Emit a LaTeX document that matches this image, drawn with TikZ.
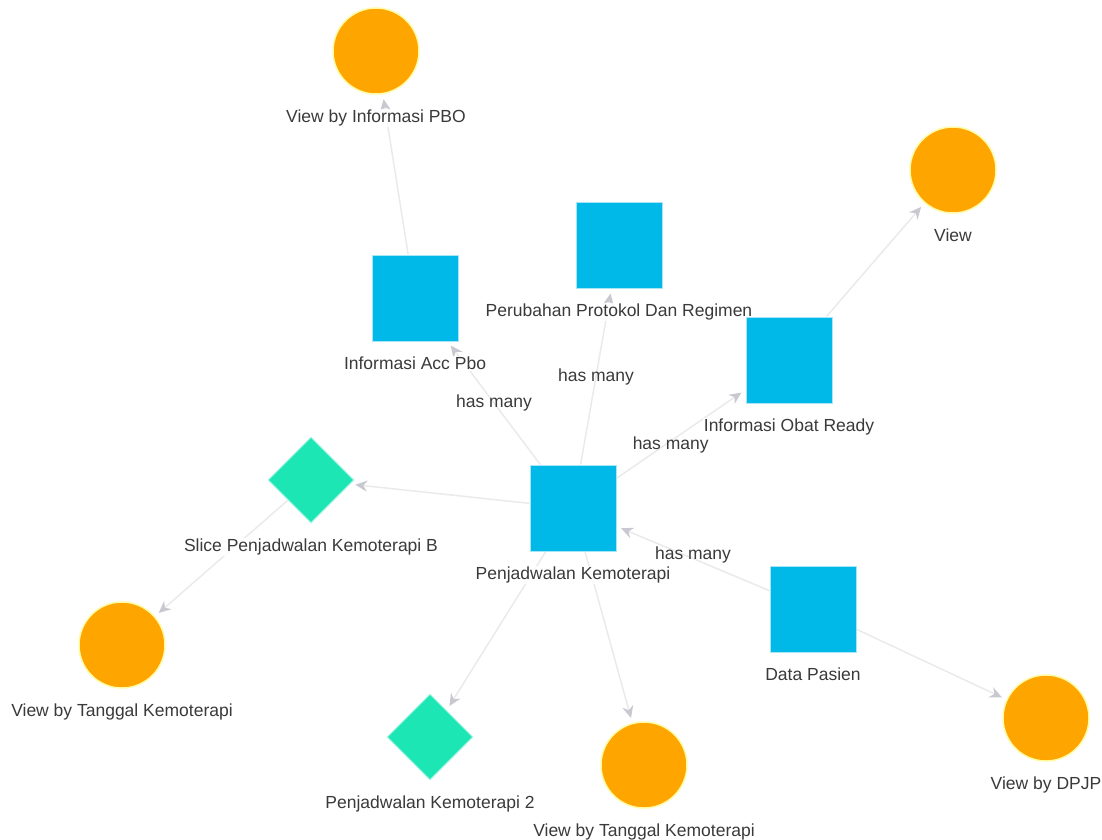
\documentclass[tikz,border=0pt]{standalone}
\usepackage{fontspec}
\setmainfont{Liberation Sans}
\usetikzlibrary{shapes.geometric, arrows.meta, positioning}
\definecolor{entblue}{HTML}{00B9E8}
\definecolor{vieworange}{HTML}{FFA500}
\definecolor{sliceteal}{HTML}{1DE6B5}
\definecolor{edgegray}{HTML}{EAEAEA}
\definecolor{tipgray}{HTML}{C8C8D0}
\definecolor{textgray}{HTML}{3A3A3A}
\pgfdeclarelayer{back}
\pgfsetlayers{back,main}
\tikzset{
    entity/.style={rectangle, minimum size=86pt, inner sep=0pt, fill=entblue, draw=entblue!35, line width=1pt},
    viewnode/.style={circle, minimum size=86pt, inner sep=0pt, fill=vieworange, draw=yellow!35, line width=1.5pt},
    slicenode/.style={diamond, minimum width=86pt, minimum height=86pt, inner sep=0pt, fill=sliceteal, draw=sliceteal!35, line width=1pt},
    nametag/.style={font=\fontsize{17.5}{20}\selectfont, text=textgray, inner sep=1pt},
    connector/.style={draw=edgegray, line width=1.5pt, shorten >=5pt, -{Stealth[length=12pt, width=11pt, color=tipgray]}}
}
\begin{document}
\begin{tikzpicture}[x=1pt, y=-1pt, label distance=14pt, every label/.style={nametag, fill=white, fill opacity=0.85, text opacity=1}]
\useasboundingbox (0,0) rectangle (1102,839);

% Nodes
\node (viewPbo) [viewnode, label=below:{View by Informasi PBO}] at (376,51) {};
\node (viewObat) [viewnode, label=below:{View}] at (953,170) {};
\node (perubahan) [entity, label=below:{Perubahan Protokol Dan Regimen}] at (619,245) {};
\node (accPbo) [entity, label=below:{Informasi Acc Pbo}] at (415,298) {};
\node (obatReady) [entity, label=below:{Informasi Obat Ready}] at (789,360) {};
\node (jadwal) [entity, label=below:{Penjadwalan Kemoterapi}] at (573,508) {};
\node (pasien) [entity, label=below:{Data Pasien}] at (813,609) {};
\node (sliceB) [slicenode, label=below:{Slice Penjadwalan Kemoterapi B}] at (311,480) {};
\node (viewTglLeft) [viewnode, label=below:{View by Tanggal Kemoterapi}] at (122,645) {};
\node (jadwalDua) [slicenode, label=below:{Penjadwalan Kemoterapi 2}] at (430,737) {};
\node (viewTglBottom) [viewnode, label=below:{View by Tanggal Kemoterapi}] at (644,765) {};
\node (viewDpjp) [viewnode, label=below:{View by DPJP}] at (1046,718) {};

% Arrows
\begin{pgfonlayer}{back}
\draw [connector] (accPbo) -- (viewPbo);
\draw [connector] (jadwal) -- node[nametag] {has many} (accPbo);
\draw [connector] (jadwal) -- node[nametag] {has many} (perubahan);
\draw [connector] (jadwal) -- node[nametag, pos=0.42, yshift=-4pt] {has many} (obatReady);
\draw [connector] (obatReady) -- (viewObat);
\draw [connector] (pasien) -- node[nametag, yshift=4pt] {has many} (jadwal);
\draw [connector] (jadwal) -- (sliceB);
\draw [connector] (sliceB) -- (viewTglLeft);
\draw [connector] (jadwal) -- (jadwalDua);
\draw [connector] (jadwal) -- (viewTglBottom);
\draw [connector] (pasien) -- (viewDpjp);
\end{pgfonlayer}

\end{tikzpicture}
\end{document}
